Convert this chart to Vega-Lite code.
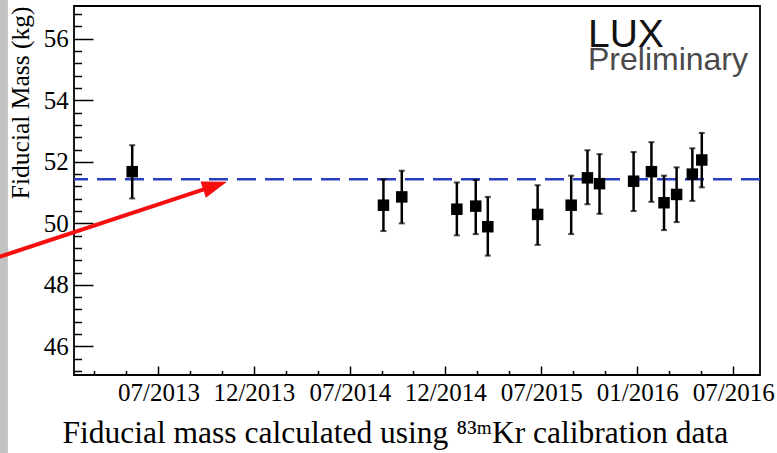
{
  "$schema": "https://vega.github.io/schema/vega-lite/v6.json",
  "width": 686,
  "height": 369,
  "autosize": {"type": "none"},
  "padding": {"left": 74, "top": 6, "right": 17, "bottom": 78},
  "background": "white",
  "config": {
    "font": "Liberation Serif",
    "view": {"stroke": "black", "strokeWidth": 1.8},
    "axis": {
      "grid": false,
      "domain": false,
      "labelColor": "black",
      "tickColor": "black",
      "tickWidth": 1.5,
      "titleColor": "black",
      "titleFontWeight": "normal",
      "labelFlush": false,
      "labelOverlap": false,
      "labelBound": false
    }
  },
  "datasets": {
    "pts": [
      {"date": "2013-05-13", "mass": 51.68, "lo": 50.81, "hi": 52.54},
      {"date": "2014-09-04", "mass": 50.59, "lo": 49.75, "hi": 51.43},
      {"date": "2014-10-09", "mass": 50.86, "lo": 50.00, "hi": 51.71},
      {"date": "2015-01-22", "mass": 50.46, "lo": 49.61, "hi": 51.33},
      {"date": "2015-02-27", "mass": 50.56, "lo": 49.65, "hi": 51.41},
      {"date": "2015-03-22", "mass": 49.89, "lo": 48.95, "hi": 50.86},
      {"date": "2015-06-25", "mass": 50.29, "lo": 49.30, "hi": 51.24},
      {"date": "2015-08-28", "mass": 50.59, "lo": 49.65, "hi": 51.55},
      {"date": "2015-09-28", "mass": 51.48, "lo": 50.62, "hi": 52.38},
      {"date": "2015-10-21", "mass": 51.29, "lo": 50.31, "hi": 52.25},
      {"date": "2015-12-25", "mass": 51.37, "lo": 50.40, "hi": 52.32},
      {"date": "2016-01-28", "mass": 51.68, "lo": 50.70, "hi": 52.64},
      {"date": "2016-02-21", "mass": 50.67, "lo": 49.78, "hi": 51.55},
      {"date": "2016-03-16", "mass": 50.94, "lo": 50.04, "hi": 51.82},
      {"date": "2016-04-15", "mass": 51.60, "lo": 50.73, "hi": 52.44},
      {"date": "2016-05-03", "mass": 52.06, "lo": 51.17, "hi": 52.94}
    ],
    "mean": [{"mass": 51.43}],
    "arrow": [{"x": "2012-08-24", "y": 48.86, "x2": "2013-10-18", "y2": 51.225}],
    "head": [{"x": "2013-10-18", "y": 51.225}],
    "strip": [{"x": "2012-08-20", "x2": "2012-09-18", "y": 57.5, "y2": 42.3}],
    "lux": [{"x": "2015-09-29", "y": 55.73, "label": "LUX"}],
    "prelim": [{"x": "2015-09-29", "y": 55.0, "label": "Preliminary"}]
  },
  "resolve": {"axis": {"x": "independent", "y": "independent"}},
  "layer": [
    {
      "data": {"name": "strip"},
      "mark": {"type": "rect", "color": "#c2c2c2", "clip": false},
      "encoding": {
        "x": {"field": "x", "type": "temporal", "scale": {"type": "utc", "nice": false, "domain": [{"year": 2013, "month": 1, "date": 22, "utc": true}, {"year": 2016, "month": 8, "date": 22, "utc": true}]}, "axis": null},
        "x2": {"field": "x2"},
        "y": {"field": "y", "type": "quantitative", "scale": {"domain": [45.07, 57.066], "nice": false, "zero": false}, "axis": null},
        "y2": {"field": "y2"}
      }
    },
    {
      "data": {"name": "mean"},
      "mark": {"type": "rule", "color": "#2b3cbf", "strokeWidth": 2.5, "strokeDash": [19, 9]},
      "encoding": {
        "y": {"field": "mass", "type": "quantitative", "scale": {"domain": [45.07, 57.066], "nice": false, "zero": false}, "axis": null}
      }
    },
    {
      "data": {"name": "pts"},
      "mark": {"type": "rule", "color": "black", "strokeWidth": 2.5},
      "encoding": {
        "x": {"field": "date", "type": "temporal", "scale": {"type": "utc", "nice": false, "domain": [{"year": 2013, "month": 1, "date": 22, "utc": true}, {"year": 2016, "month": 8, "date": 22, "utc": true}]},
          "axis": {
            "orient": "bottom",
            "title": "Fiducial mass calculated using ⁸³ᵐKr calibration data",
            "titleFont": "Liberation Serif",
            "titleFontSize": 31.5,
            "titleFontWeight": "normal",
            "titleColor": "black",
            "titleAnchor": "start",
            "titleAlign": "left",
            "titleX": -12,
            "titlePadding": 12,
            "format": "%m/%Y",
            "values": [
              {"year": 2013, "month": 7, "date": 2, "utc": true},
              {"year": 2013, "month": 12, "date": 31, "utc": true},
              {"year": 2014, "month": 7, "date": 2, "utc": true},
              {"year": 2014, "month": 12, "date": 31, "utc": true},
              {"year": 2015, "month": 7, "date": 2, "utc": true},
              {"year": 2016, "month": 1, "date": 1, "utc": true},
              {"year": 2016, "month": 7, "date": 2, "utc": true}
            ],
            "tickSize": -9,
            "labelPadding": 14.5,
            "labelFont": "Liberation Serif",
            "labelFontWeight": "normal",
            "labelFontSize": 25,
            "labelColor": "black"
          }
        },
        "y": {"field": "lo", "type": "quantitative", "scale": {"domain": [45.07, 57.066], "nice": false, "zero": false},
          "axis": {
            "orient": "left",
            "values": [46, 48, 50, 52, 54, 56],
            "tickSize": -19,
            "labelPadding": 24.7,
            "labelFont": "Liberation Serif",
            "labelFontWeight": "normal",
            "labelFontSize": 25,
            "labelColor": "black",
            "title": "Fiducial Mass (kg)",
            "titleFont": "Liberation Serif",
            "titleFontSize": 25.5,
            "titleFontWeight": "normal",
            "titleAnchor": "end",
            "titlePadding": 10
          }
        },
        "y2": {"field": "hi"}
      }
    },
    {
      "data": {"name": "pts"},
      "mark": {"type": "tick", "orient": "horizontal", "color": "black", "size": 6, "thickness": 2},
      "encoding": {
        "x": {"field": "date", "type": "temporal", "scale": {"type": "utc", "nice": false, "domain": [{"year": 2013, "month": 1, "date": 22, "utc": true}, {"year": 2016, "month": 8, "date": 22, "utc": true}]},
          "axis": {
            "orient": "bottom",
            "title": null,
            "labels": false,
            "tickSize": -4.5,
            "values": [
              {"year": 2013, "month": 3, "date": 2, "utc": true},
              {"year": 2013, "month": 5, "date": 2, "utc": true},
              {"year": 2013, "month": 9, "date": 1, "utc": true},
              {"year": 2013, "month": 10, "date": 31, "utc": true},
              {"year": 2014, "month": 3, "date": 2, "utc": true},
              {"year": 2014, "month": 5, "date": 2, "utc": true},
              {"year": 2014, "month": 9, "date": 1, "utc": true},
              {"year": 2014, "month": 10, "date": 31, "utc": true},
              {"year": 2015, "month": 3, "date": 2, "utc": true},
              {"year": 2015, "month": 5, "date": 2, "utc": true},
              {"year": 2015, "month": 9, "date": 1, "utc": true},
              {"year": 2015, "month": 11, "date": 1, "utc": true},
              {"year": 2016, "month": 3, "date": 2, "utc": true},
              {"year": 2016, "month": 5, "date": 2, "utc": true}
            ]
          }
        },
        "y": {"field": "lo", "type": "quantitative", "scale": {"domain": [45.07, 57.066], "nice": false, "zero": false},
          "axis": {
            "orient": "left",
            "title": null,
            "labels": false,
            "tickSize": -7.5,
            "values": [45.2, 45.6, 46.4, 46.8, 47.2, 47.6, 48.4, 48.8, 49.2, 49.6, 50.4, 50.8, 51.2, 51.6, 52.4, 52.8, 53.2, 53.6, 54.4, 54.8, 55.2, 55.6, 56.4, 56.8]
          }
        }
      }
    },
    {
      "data": {"name": "pts"},
      "mark": {"type": "tick", "orient": "horizontal", "color": "black", "size": 6, "thickness": 2},
      "encoding": {
        "x": {"field": "date", "type": "temporal", "axis": null},
        "y": {"field": "hi", "type": "quantitative", "axis": null}
      }
    },
    {
      "data": {"name": "pts"},
      "mark": {"type": "point", "shape": "square", "filled": true, "color": "black", "opacity": 1, "size": 132},
      "encoding": {
        "x": {"field": "date", "type": "temporal", "axis": null},
        "y": {"field": "mass", "type": "quantitative", "axis": null}
      }
    },
    {
      "data": {"name": "arrow"},
      "mark": {"type": "rule", "color": "#f50f0f", "strokeWidth": 4, "clip": false},
      "encoding": {
        "x": {"field": "x", "type": "temporal", "axis": null},
        "y": {"field": "y", "type": "quantitative", "axis": null},
        "x2": {"field": "x2"},
        "y2": {"field": "y2"}
      }
    },
    {
      "data": {"name": "head"},
      "mark": {"type": "point", "shape": "M1,0L-1,-0.68L-1,0.68Z", "filled": true, "color": "#f50f0f", "opacity": 1, "size": 625, "angle": 341.7, "clip": false},
      "encoding": {
        "x": {"field": "x", "type": "temporal", "axis": null},
        "y": {"field": "y", "type": "quantitative", "axis": null}
      }
    },
    {
      "data": {"name": "lux"},
      "mark": {"type": "text", "align": "left", "baseline": "alphabetic", "font": "Liberation Sans", "fontSize": 39, "color": "#111111"},
      "encoding": {
        "x": {"field": "x", "type": "temporal", "axis": null},
        "y": {"field": "y", "type": "quantitative", "axis": null},
        "text": {"field": "label"}
      }
    },
    {
      "data": {"name": "prelim"},
      "mark": {"type": "text", "align": "left", "baseline": "alphabetic", "font": "Liberation Sans", "fontSize": 32, "color": "#4a4a4a"},
      "encoding": {
        "x": {"field": "x", "type": "temporal", "axis": null},
        "y": {"field": "y", "type": "quantitative", "axis": null},
        "text": {"field": "label"}
      }
    }
  ]
}
